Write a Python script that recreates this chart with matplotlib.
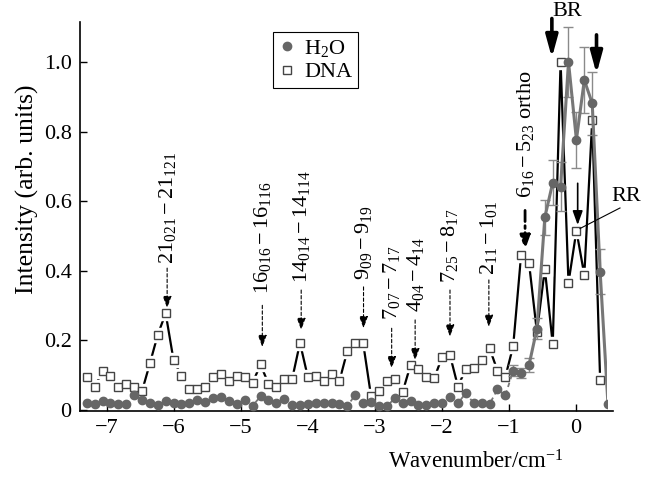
import matplotlib
matplotlib.use("Agg")
import matplotlib.pyplot as plt
from matplotlib.lines import Line2D
from matplotlib.transforms import Bbox, TransformedBbox

plt.rcParams['font.family'] = ['Liberation Serif', 'DejaVu Serif']
plt.rcParams['mathtext.fontset'] = 'custom'
plt.rcParams['mathtext.rm'] = 'Liberation Serif'
plt.rcParams['mathtext.it'] = 'Liberation Serif:italic'
plt.rcParams['mathtext.bf'] = 'Liberation Serif:bold'

# ---------------- data ----------------
wavenumber = [-7.300, -7.182, -7.064, -6.946, -6.829, -6.711, -6.593, -6.475, -6.357, -6.239,
              -6.122, -6.004, -5.886, -5.768, -5.650, -5.532, -5.415, -5.297, -5.179, -5.061,
              -4.943, -4.825, -4.707, -4.590, -4.472, -4.354, -4.236, -4.118, -4.000, -3.883,
              -3.765, -3.647, -3.529, -3.411, -3.293, -3.176, -3.058, -2.940, -2.822, -2.704,
              -2.586, -2.469, -2.351, -2.233, -2.115, -1.997, -1.879, -1.761, -1.644, -1.526,
              -1.408, -1.290, -1.172, -1.054, -0.937, -0.819, -0.701, -0.583, -0.465, -0.347,
              -0.230, -0.112, 0.006, 0.124, 0.242, 0.360, 0.477]

dna = [0.093, 0.064, 0.112, 0.098, 0.064, 0.075, 0.066, 0.053, 0.133, 0.216,
       0.277, 0.142, 0.097, 0.058, 0.058, 0.064, 0.093, 0.102, 0.081, 0.098,
       0.093, 0.077, 0.130, 0.075, 0.066, 0.087, 0.087, 0.192, 0.093, 0.098,
       0.082, 0.102, 0.083, 0.169, 0.192, 0.192, 0.039, 0.053, 0.081, 0.087,
       0.051, 0.128, 0.116, 0.093, 0.090, 0.152, 0.156, 0.066, 0.118, 0.121,
       0.142, 0.177, 0.112, 0.094, 0.183, 0.445, 0.422, 0.223, 0.405, 0.188,
       1.000, 0.365, 0.515, 0.387, 0.833, 0.085]

h2o = [0.018, 0.015, 0.025, 0.018, 0.015, 0.015, 0.043, 0.029, 0.019, 0.012,
       0.025, 0.018, 0.015, 0.019, 0.027, 0.023, 0.034, 0.037, 0.025, 0.015,
       0.028, 0.011, 0.038, 0.027, 0.018, 0.030, 0.012, 0.012, 0.015, 0.018,
       0.019, 0.019, 0.015, 0.010, 0.043, 0.019, 0.021, 0.010, 0.009, 0.033,
       0.019, 0.025, 0.014, 0.014, 0.020, 0.018, 0.035, 0.018, 0.048, 0.018,
       0.020, 0.016, 0.058, 0.041, 0.112, 0.106, 0.128, 0.233, 0.553, 0.653,
       0.641, 1.000, 0.776, 0.948, 0.881, 0.397, 0.015]

# error bars of the H2O series (index -> error)
h2o_err_idx = [54, 55, 56, 57, 58, 59, 60, 61, 62, 63, 64, 65]
h2o_err_val = [0.015, 0.015, 0.02, 0.03, 0.05, 0.065, 0.07, 0.10, 0.08, 0.095, 0.09, 0.065]

x_ticks = [-7, -6, -5, -4, -3, -2, -1, 0]
x_tick_labels = ['\u22127', '\u22126', '\u22125', '\u22124', '\u22123', '\u22122', '\u22121', '0']
y_ticks = [0, 0.2, 0.4, 0.6, 0.8, 1.0]
y_tick_labels = ['0', '0.2', '0.4', '0.6', '0.8', '1.0']

# (label, x, text bottom, arrow tail, arrow tip)
transitions = [
    (r'$21_{021} - 21_{121}$', -6.10, 0.420, 0.407, 0.292),
    (r'$16_{016} - 16_{116}$', -4.68, 0.334, 0.300, 0.180),
    (r'$14_{014} - 14_{114}$', -4.10, 0.363, 0.344, 0.229),
    (r'$9_{09} - 9_{19}$', -3.17, 0.373, 0.353, 0.234),
    (r'$7_{07} - 7_{17}$', -2.75, 0.258, 0.234, 0.119),
    (r'$4_{04} - 4_{14}$', -2.40, 0.281, 0.258, 0.142),
    (r'$7_{25} - 8_{17}$', -1.88, 0.363, 0.344, 0.210),
    (r'$2_{11} - 1_{01}$', -1.30, 0.387, 0.373, 0.238),
]
ortho_label = (r'$6_{16} - 5_{23}$ ortho', -0.76, 0.608, 0.573, 0.460)

# ---------------- figure ----------------
fig = plt.figure(figsize=(6.69, 4.79), dpi=100)
ax = fig.add_axes([80/669, 68/479, 533/669, 389/479])

x_dna = wavenumber[:len(dna)]
x_h2o = wavenumber[:len(h2o)]

# DNA: black line with gaps at the squares
ax.plot(x_dna, dna, color='black', lw=1.6, zorder=2)
ax.plot(x_dna, dna, ls='none', marker='s', ms=9.5, mfc='white', mec='white', zorder=2.5)
ax.plot(x_dna, dna, ls='none', marker='s', ms=6.3, mfc='white', mec='#444444', mew=1.0, zorder=3)

# H2O: gray line, dashed at the baseline, solid in the peak
clipbox = TransformedBbox(Bbox([[-7.4, -0.01], [0.462, 1.2]]), ax.transData)
l1, = ax.plot(x_h2o[:57], h2o[:57], color='#777777', lw=1.3, ls=(0, (2.5, 2)), zorder=3.4)
l2, = ax.plot(x_h2o[56:], h2o[56:], color='#777777', lw=2.2, zorder=3.4)
ex = [x_h2o[i] for i in h2o_err_idx]
ey = [h2o[i] for i in h2o_err_idx]
ax.errorbar(ex, ey, yerr=h2o_err_val, fmt='none', ecolor='#8a8a8a', elinewidth=1.0,
            capsize=3.5, capthick=1.0, zorder=3.3)
pts, = ax.plot(x_h2o, h2o, ls='none', marker='o', ms=6.0, mfc='#666666', mec='#666666', zorder=4)
for art in (l1, l2, pts):
    art.set_clip_box(clipbox)

# transition labels and dashed arrows
for lab, xx, tb, tail, tip in transitions:
    ax.text(xx, tb, lab, rotation=90, ha='center', va='bottom', fontsize=16)
    ax.annotate('', xy=(xx, tip), xytext=(xx, tail),
                arrowprops=dict(arrowstyle='-|>,head_length=0.6,head_width=0.22',
                                ls=(0, (3, 2)), lw=0.8, color='black',
                                mutation_scale=12, shrinkA=0, shrinkB=0))

lab, xx, tb, tail, tip = ortho_label
ax.text(xx, tb, lab, rotation=90, ha='center', va='bottom', fontsize=16)
ax.annotate('', xy=(xx, tip), xytext=(xx, tail),
            arrowprops=dict(arrowstyle='-|>,head_length=0.7,head_width=0.25',
                            ls=(0, (4, 1.5, 1, 1.5)), lw=2.0, color='black',
                            mutation_scale=12, shrinkA=0, shrinkB=0))

# BR
ax.text(-0.13, 1.145, 'BR', ha='center', va='center', fontsize=16, clip_on=False)
for xx, y0, y1 in [(-0.36, 1.125, 1.012), (0.306, 1.078, 0.966)]:
    ax.annotate('', xy=(xx, y1), xytext=(xx, y0), annotation_clip=False,
                arrowprops=dict(arrowstyle='-|>,head_length=1.1,head_width=0.3',
                                lw=2.6, color='black', mutation_scale=12,
                                shrinkA=0, shrinkB=0))

# RR
ax.text(0.756, 0.614, 'RR', ha='center', va='center', fontsize=16, clip_on=False)
ax.plot([0.06, 0.656], [0.521, 0.58], color='black', lw=0.8, clip_on=False, zorder=5)
ax.annotate('', xy=(0.025, 0.531), xytext=(0.025, 0.651),
            arrowprops=dict(arrowstyle='-|>,head_length=0.7,head_width=0.25',
                            lw=1.2, color='black', mutation_scale=12, shrinkA=0, shrinkB=0))

# legend
handles = [Line2D([], [], ls='none', marker='o', ms=6.0, mfc='#666666', mec='#666666'),
           Line2D([], [], ls='none', marker='s', ms=6.3, mfc='white', mec='#444444')]
leg = ax.legend(handles, ['H$_2$O', 'DNA'], loc='upper left',
                bbox_to_anchor=((273-80)/533, (411-32)/389), fontsize=16,
                frameon=True, fancybox=False, edgecolor='black', framealpha=1,
                handlelength=0.8, handletextpad=0.35, borderpad=0.25,
                labelspacing=0.15, borderaxespad=0)
leg.get_frame().set_linewidth(0.8)

# axes
ax.set_xlim(-7.4, 0.552)
ax.set_ylim(-0.004, 1.115)
ax.set_xticks(x_ticks)
ax.set_xticklabels(x_tick_labels)
ax.set_yticks(y_ticks)
ax.set_yticklabels(y_tick_labels)
ax.tick_params(direction='in', length=5, width=1.0, labelsize=16, pad=6)
for s in ('top', 'right'):
    ax.spines[s].set_visible(False)
for s in ('left', 'bottom'):
    ax.spines[s].set_linewidth(1.2)

ax.set_xlabel('Wavenumber/cm$^{-1}$', fontsize=16.5)
ax.xaxis.set_label_coords((476-80)/533, -0.1)
ax.set_ylabel('Intensity (arb. units)', fontsize=18.5)
ax.yaxis.set_label_coords(-0.077, (411-189)/389)

fig.savefig('out.png', dpi=100)
